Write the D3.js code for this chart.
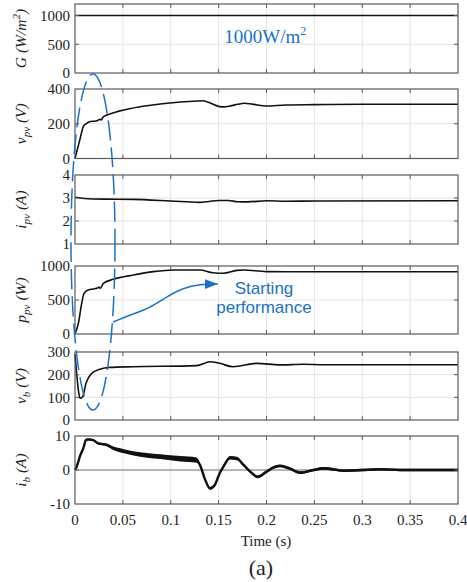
<!DOCTYPE html>
<html>
<head>
<meta charset="utf-8">
<script src="https://cdn.jsdelivr.net/npm/d3@7"></script>
<style>
  html, body { margin: 0; padding: 0; background: #fff; }
  svg { display: block; }
</style>
</head>
<body>
<svg id="chart" width="467" height="582"></svg>
<script>
// ---- simulation traces: [time (s), value] ----
const timeTicks = [0, 0.05, 0.1, 0.15, 0.2, 0.25, 0.3, 0.35, 0.4];
const timeTickLabels = ["0", "0.05", "0.1", "0.15", "0.2", "0.25", "0.3", "0.35", "0.4"];

const irradiance = [[0, 1000], [0.4, 1000]];

const pvVoltage = [
  [0, 0], [0.005, 107], [0.0087, 184], [0.0115, 199], [0.016, 213], [0.022, 216],
  [0.024, 220], [0.026, 226], [0.0275, 222], [0.029, 236], [0.033, 250], [0.037, 257],
  [0.047, 274], [0.068, 298], [0.089, 314], [0.11, 325], [0.128, 331], [0.133, 332],
  [0.14, 322], [0.15, 300], [0.155, 297], [0.162, 302], [0.17, 312], [0.177, 318],
  [0.185, 313], [0.2, 302], [0.22, 308], [0.25, 310], [0.3, 312], [0.4, 312]
];

const pvCurrent = [
  [0, 3.03], [0.01, 2.98], [0.03, 2.95], [0.06, 2.94], [0.1, 2.87], [0.13, 2.81],
  [0.14, 2.85], [0.15, 2.89], [0.16, 2.89], [0.17, 2.84], [0.18, 2.83], [0.2, 2.88],
  [0.22, 2.86], [0.25, 2.87], [0.4, 2.88]
];

const pvPower = [
  [0, 0], [0.0035, 157], [0.007, 451], [0.0094, 598], [0.0139, 647], [0.019, 662],
  [0.0235, 676], [0.025, 690], [0.0265, 672], [0.0296, 745], [0.04, 804], [0.061, 868],
  [0.082, 917], [0.103, 941], [0.1305, 941], [0.144, 901], [0.155, 893], [0.169, 935],
  [0.176, 941], [0.2, 917], [0.25, 915], [0.4, 915]
];

const busVoltage = [
  [0, 290], [0.0017, 206], [0.0035, 132], [0.0052, 96], [0.008, 103], [0.0115, 162],
  [0.0174, 206], [0.026, 224], [0.0366, 232], [0.06, 235], [0.127, 240], [0.141, 257],
  [0.151, 250], [0.165, 235], [0.19, 250], [0.214, 243], [0.238, 246], [0.26, 244], [0.4, 244]
];

// [time, current, ripple half-width]
const busCurrent = [
  [0, 0, 0.2], [0.001, 0.5, 0.3], [0.003, 2.0, 0.4], [0.005, 3.9, 0.5], [0.0087, 6.4, 0.5],
  [0.0115, 8.8, 0.4], [0.014, 9.0, 0.3], [0.019, 8.8, 0.3], [0.0244, 7.8, 0.3], [0.033, 7.4, 0.4],
  [0.04, 6.4, 0.5], [0.05, 5.6, 0.6], [0.061, 4.9, 0.6], [0.075, 4.3, 0.7], [0.089, 3.9, 0.7],
  [0.11, 3.3, 0.8], [0.127, 2.9, 0.8], [0.1305, 1.5, 0.5], [0.136, -2.9, 0.4], [0.141, -5.4, 0.4],
  [0.146, -4.4, 0.4], [0.151, -1, 0.4], [0.155, 1, 0.4], [0.162, 3.6, 0.5], [0.169, 3.4, 0.5],
  [0.176, 1.5, 0.4], [0.183, -0.5, 0.4], [0.191, -2, 0.4], [0.2, -0.5, 0.4], [0.207, 0.7, 0.4],
  [0.214, 1.2, 0.4], [0.2245, 0.4, 0.4], [0.235, -0.8, 0.4], [0.249, 0, 0.4], [0.259, 0.5, 0.4],
  [0.27, 0.2, 0.4], [0.28, -0.2, 0.35], [0.3, 0, 0.35], [0.32, 0.2, 0.35], [0.34, 0, 0.35], [0.4, 0, 0.35]
];

const gTicks = [0, 500, 1000];
const vpvTicks = [0, 200, 400];
const ipvTicks = [1, 2, 3, 4];
const ppvTicks = [0, 500, 1000];
const vbTicks = [0, 100, 200, 300];
const ibTicks = [-10, 0, 10];

// annotation: arrow path in (time, p_pv) units
const arrowPath = [[0.0397, 176], [0.0574, 279], [0.0783, 382], [0.0958, 548], [0.1128, 676], [0.1305, 735], [0.149, 735]];

const blue = "#1a72c4";
const serif = "'Liberation Serif', 'Times New Roman', Times, serif";
const sans = "'Liberation Sans', Arial, Helvetica, sans-serif";

// ---- layout ----
const svg = d3.select("#chart");
const x = d3.scaleLinear().domain([0, 0.4]).range([75, 458]);

const panels = [
  { id: "G", data: irradiance, domain: [0, 1200], ticks: gTicks, top: 4, bottom: 73,
    label: [["G", 0], [" (W/m", 0], ["2", -1], [")", 0]] },
  { id: "vpv", data: pvVoltage, domain: [0, 400], ticks: vpvTicks, top: 89, bottom: 158.5,
    label: [["v", 0], ["pv", 1], [" (V)", 0]] },
  { id: "ipv", data: pvCurrent, domain: [1, 4], ticks: ipvTicks, top: 175, bottom: 244,
    label: [["i", 0], ["pv", 1], [" (A)", 0]] },
  { id: "ppv", data: pvPower, domain: [0, 1000], ticks: ppvTicks, top: 266, bottom: 334,
    label: [["p", 0], ["pv", 1], [" (W)", 0]] },
  { id: "vb", data: busVoltage, domain: [0, 300], ticks: vbTicks, top: 352, bottom: 420,
    label: [["v", 0], ["b", 1], [" (V)", 0]] },
  { id: "ib", data: busCurrent, domain: [-10, 10], ticks: ibTicks, top: 436, bottom: 504,
    label: [["i", 0], ["b", 1], [" (A)", 0]] }
];

panels.forEach(p => {
  p.y = d3.scaleLinear().domain(p.domain).range([p.bottom, p.top]);
});

const [x0, x1] = x.range();
const gridColor = "#e4e4e4";
const frameColor = "#5a5a5a";

function tickText(sel) {
  return sel.style("font-family", serif).style("font-size", "15px").style("fill", "#222");
}

panels.forEach(p => {
  const g = svg.append("g").attr("class", "panel-" + p.id);
  const inner = p.ticks.filter(t => t > p.domain[0] && t < p.domain[1]);

  // grid
  g.selectAll(".vgrid").data(timeTicks.slice(1, -1)).join("line")
    .attr("x1", d => x(d)).attr("x2", d => x(d))
    .attr("y1", p.top).attr("y2", p.bottom)
    .attr("stroke", gridColor).attr("stroke-width", 1);
  g.selectAll(".hgrid").data(inner).join("line")
    .attr("x1", x0).attr("x2", x1)
    .attr("y1", d => p.y(d)).attr("y2", d => p.y(d))
    .attr("stroke", d => (p.id === "ib" && d === 0) ? "#6e6e6e" : gridColor)
    .attr("stroke-width", 1);

  // data
  const line = d3.line().x(d => x(d[0])).y(d => p.y(d[1])).curve(d3.curveMonotoneX);
  if (p.id === "ib") {
    const band = d3.area().x(d => x(d[0]))
      .y0(d => p.y(d[1] - d[2])).y1(d => p.y(d[1] + d[2])).curve(d3.curveMonotoneX);
    g.append("path").datum(p.data).attr("d", band).attr("fill", "#111");
    g.append("path").datum(p.data).attr("d", line)
      .attr("fill", "none").attr("stroke", "#111").attr("stroke-width", 2.4);
  } else {
    g.append("path").datum(p.data).attr("d", line)
      .attr("fill", "none").attr("stroke", "#111").attr("stroke-width", 1.6)
      .attr("stroke-linejoin", "round");
  }

  // frame
  g.append("rect").attr("x", x0).attr("y", p.top)
    .attr("width", x1 - x0).attr("height", p.bottom - p.top)
    .attr("fill", "none").attr("stroke", frameColor).attr("stroke-width", 1.2);

  // inward ticks
  const tl = 4;
  timeTicks.slice(1, -1).forEach(t => {
    g.append("line").attr("x1", x(t)).attr("x2", x(t)).attr("y1", p.bottom).attr("y2", p.bottom - tl)
      .attr("stroke", frameColor);
    g.append("line").attr("x1", x(t)).attr("x2", x(t)).attr("y1", p.top).attr("y2", p.top + tl)
      .attr("stroke", frameColor);
  });
  inner.forEach(t => {
    g.append("line").attr("x1", x0).attr("x2", x0 + tl).attr("y1", p.y(t)).attr("y2", p.y(t))
      .attr("stroke", frameColor);
    g.append("line").attr("x1", x1).attr("x2", x1 - tl).attr("y1", p.y(t)).attr("y2", p.y(t))
      .attr("stroke", frameColor);
  });

  // y tick labels
  g.selectAll(".ylabel").data(p.ticks).join("text")
    .call(tickText)
    .attr("x", 70).attr("y", d => p.y(d)).attr("dy", "0.35em")
    .attr("text-anchor", "end")
    .text(d => d);

  // axis title (rotated, with sub/superscripts)
  const cy = (p.top + p.bottom) / 2;
  const t = g.append("text")
    .style("font-family", serif).style("font-size", "15.5px")
    .style("font-style", "italic").style("fill", "#222")
    .attr("transform", `translate(26,${cy}) rotate(-90)`)
    .attr("text-anchor", "middle");
  let shift = 0;
  p.label.forEach(([s, mode]) => {
    const target = mode === 1 ? 4 : mode === -1 ? -6 : 0;
    const ts = t.append("tspan").text(s).attr("dy", target - shift);
    if (mode !== 0) ts.style("font-size", "11px");
    shift = target;
  });
});

// x tick labels and titles
const bottomPanel = panels[panels.length - 1];
svg.selectAll(".xlabel").data(timeTicks).join("text")
  .call(tickText)
  .attr("x", d => x(d)).attr("y", bottomPanel.bottom + 21)
  .attr("text-anchor", "middle")
  .text((d, i) => timeTickLabels[i]);

svg.append("text").call(tickText)
  .attr("x", 266).attr("y", 546).attr("text-anchor", "middle")
  .text("Time (s)");

svg.append("text")
  .attr("x", 261).attr("y", 575).attr("text-anchor", "middle")
  .style("font-family", serif)
  .style("font-size", "22px").style("fill", "#222")
  .text("(a)");

// irradiance annotation
const gPanel = panels[0];
const irr = svg.append("text")
  .attr("x", x(0.156)).attr("y", gPanel.y(1000) + 27)
  .style("font-family", serif)
  .style("font-size", "19px").style("fill", blue);
irr.append("tspan").text("1000W/m");
irr.append("tspan").text("2").attr("dy", -8).style("font-size", "12px");

// dashed ellipse marking the start-up transient
const vbPanel = panels[4];
const ppvPanel = panels[3];
const eTop = gPanel.y(0) + 1;
const eBottom = vbPanel.y(44);
const eCx = x(0.0188);
const eRx = x(0.0188 + 0.023) - eCx;
svg.append("ellipse")
  .attr("cx", eCx).attr("cy", (eTop + eBottom) / 2)
  .attr("rx", eRx).attr("ry", (eBottom - eTop) / 2)
  .attr("fill", "none").attr("stroke", blue).attr("stroke-width", 1.5)
  .attr("stroke-dasharray", "20,7");

// arrow to the label
svg.append("defs").append("marker")
  .attr("id", "head").attr("markerUnits", "userSpaceOnUse")
  .attr("markerWidth", 14).attr("markerHeight", 10)
  .attr("refX", 13).attr("refY", 5).attr("orient", "auto")
  .append("path").attr("d", "M0,0 L13,5 L0,10 Z").attr("fill", blue);

const arrowLine = d3.line().x(d => x(d[0])).y(d => ppvPanel.y(d[1])).curve(d3.curveBasis);
svg.append("path").datum(arrowPath).attr("d", arrowLine)
  .attr("fill", "none").attr("stroke", blue).attr("stroke-width", 1.5)
  .attr("marker-end", "url(#head)");

const note = svg.append("text")
  .attr("text-anchor", "middle")
  .style("font-family", sans)
  .style("font-size", "17px").style("fill", blue);
note.append("tspan").attr("x", 264).attr("y", 294).text("Starting");
note.append("tspan").attr("x", 264).attr("y", 313).text("performance");
</script>
</body>
</html>
